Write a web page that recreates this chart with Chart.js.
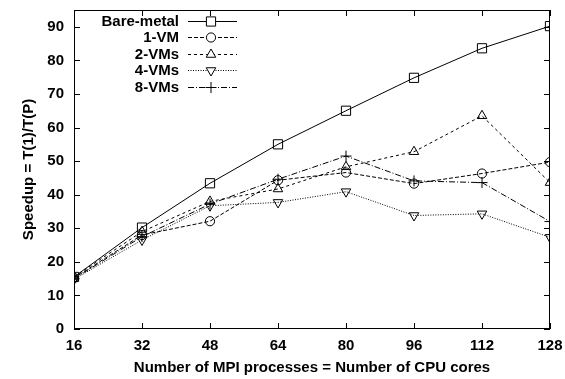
<!DOCTYPE html>
<html><head><meta charset="utf-8">
<script src="https://cdn.jsdelivr.net/npm/chart.js@4/dist/chart.umd.min.js"></script>
<style>html,body{margin:0;padding:0;background:#fff}canvas{display:block}</style>
</head><body>
<canvas id="c" width="565" height="379"></canvas>
<script>
const cores = [16, 32, 48, 64, 80, 96, 112, 128];
const bareMetal = [15.5, 30.2, 43.4, 55.0, 65.0, 74.8, 83.6, 90.2];
const oneVM = [15.2, 28.0, 32.1, 44.3, 46.6, 43.3, 46.3, 49.7];
const twoVMs = [15.5, 29.0, 38.0, 41.7, 48.3, 52.8, 63.5, 43.6];
const fourVMs = [14.8, 26.5, 36.7, 37.7, 40.9, 33.8, 34.3, 27.3];
const eightVMs = [15.0, 27.5, 37.2, 44.6, 51.5, 44.1, 43.6, 32.0];
const yTicks = [0, 10, 20, 30, 40, 50, 60, 70, 80, 90];
const seriesNames = ['Bare-metal', '1-VM', '2-VMs', '4-VMs', '8-VMs'];

const FONT = 'Liberation Sans, Arial, sans-serif';
const FS = 15;
const pts = (arr) => cores.map((x, i) => ({x: x, y: arr[i]}));

const styles = [
  {dash: [], point: 'rect', r: 6.5, rot: 0},
  {dash: [4, 2], point: 'circle', r: 4.6, rot: 0},
  {dash: [3, 3], point: 'triangle', r: 5.5, rot: 0},
  {dash: [1, 1.5], point: 'triangle', r: 5.5, rot: 180},
  {dash: [6, 2, 1, 2], point: 'cross', r: 5.5, rot: 0}
];
const allData = [bareMetal, oneVM, twoVMs, fourVMs, eightVMs];

const datasets = allData.map((d, i) => ({
  label: seriesNames[i],
  data: pts(d),
  borderColor: '#000',
  backgroundColor: 'rgba(0,0,0,0)',
  borderWidth: 1,
  borderDash: styles[i].dash,
  pointStyle: styles[i].point,
  pointRadius: styles[i].r,
  pointRotation: styles[i].rot,
  pointBorderColor: '#000',
  pointBackgroundColor: 'rgba(0,0,0,0)',
  pointBorderWidth: 1,
  tension: 0,
  fill: false
}));

const framePlugin = {
  id: 'frame',
  afterDatasetsDraw(chart) {
    const {ctx, chartArea: a, scales} = chart;
    ctx.save();
    ctx.strokeStyle = '#000';
    ctx.lineWidth = 1;
    ctx.setLineDash([]);
    ctx.strokeRect(a.left + 0.5, a.top + 0.5, a.right - a.left - 1, a.bottom - a.top - 1);
    const L = 6;
    ctx.beginPath();
    cores.forEach(v => {
      const x = Math.round(scales.x.getPixelForValue(v)) + 0.5;
      ctx.moveTo(x, a.bottom); ctx.lineTo(x, a.bottom - L);
      ctx.moveTo(x, a.top); ctx.lineTo(x, a.top + L);
    });
    yTicks.forEach(v => {
      const y = Math.round(scales.y.getPixelForValue(v)) + 0.5;
      ctx.moveTo(a.left, y); ctx.lineTo(a.left + L, y);
      ctx.moveTo(a.right, y); ctx.lineTo(a.right - L, y);
    });
    ctx.stroke();
    // legend (gnuplot style)
    ctx.font = 'bold ' + FS + 'px ' + FONT;
    ctx.textAlign = 'right';
    ctx.textBaseline = 'middle';
    seriesNames.forEach((name, i) => {
      const y = Math.round(21 + i * 16.4) + 0.5;
      ctx.fillStyle = '#000';
      ctx.fillText(name, 179, y);
      ctx.beginPath();
      ctx.setLineDash(styles[i].dash);
      ctx.moveTo(188, y);
      ctx.lineTo(237, y);
      ctx.stroke();
      ctx.setLineDash([]);
      ctx.fillStyle = '#fff';
      Chart.helpers.drawPoint(ctx, {pointStyle: styles[i].point, radius: styles[i].r, rotation: styles[i].rot, borderWidth: 1}, 211, y);
    });
    ctx.restore();
  }
};

new Chart(document.getElementById('c'), {
  type: 'line',
  data: {datasets: datasets},
  options: {
    responsive: false,
    animation: false,
    devicePixelRatio: 1,
    layout: {padding: {left: 0, top: 10, right: 15, bottom: 0}},
    plugins: {legend: {display: false}, tooltip: {enabled: false}},
    scales: {
      x: {
        type: 'linear', min: 16, max: 128,
        afterBuildTicks: (s) => { s.ticks = cores.map(v => ({value: v})); },
        afterFit: (s) => { s.height = 50; s.paddingLeft = 0; s.paddingRight = 0; },
        grid: {display: false, drawTicks: false},
        border: {display: false},
        ticks: {color: '#000', font: {family: FONT, size: FS, weight: 'bold'}, padding: 8, maxRotation: 0, autoSkip: false},
        title: {display: true, text: 'Number of MPI processes = Number of CPU cores', color: '#000', font: {family: FONT, size: FS, weight: 'bold'}, padding: {top: 0, bottom: 2}}
      },
      y: {
        type: 'linear', min: 0, max: 95,
        afterBuildTicks: (s) => { s.ticks = yTicks.map(v => ({value: v})); },
        afterFit: (s) => { s.width = 74; s.paddingTop = 0; s.paddingBottom = 0; },
        grid: {display: false, drawTicks: false},
        border: {display: false},
        ticks: {color: '#000', font: {family: FONT, size: FS, weight: 'bold'}, padding: 10},
        title: {display: true, text: 'Speedup = T(1)/T(P)', color: '#000', font: {family: FONT, size: FS, weight: 'bold'}, padding: {top: 20, bottom: 0}}
      }
    }
  },
  plugins: [framePlugin]
});
</script>
</body></html>
